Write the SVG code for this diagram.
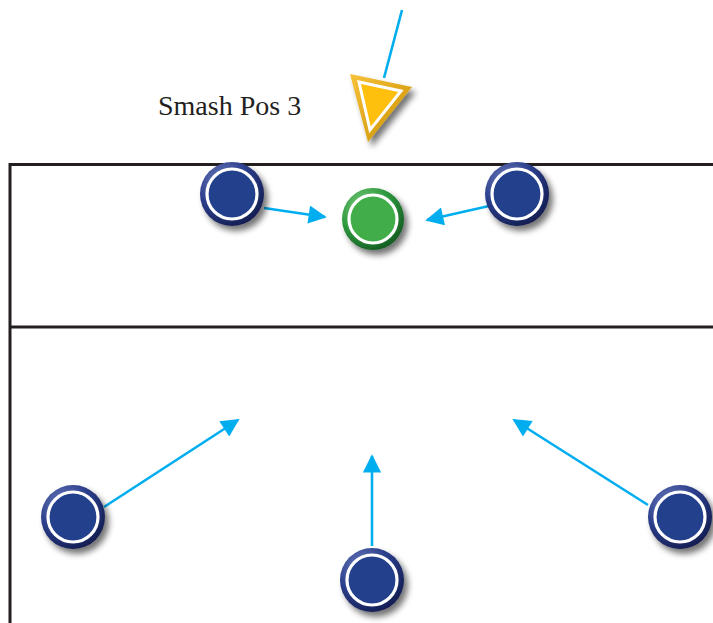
<svg xmlns="http://www.w3.org/2000/svg" width="713" height="623" viewBox="0 0 713 623">
  <style>
    .court { fill: none; stroke: #231f20; stroke-width: 3; }
    .move { fill: none; stroke: #00aeef; stroke-width: 2.6; }
    .ring { stroke: #ffffff; stroke-width: 3.2; }
    .label { font-family: "Liberation Serif", "DejaVu Serif", serif; font-size: 28px; fill: #231f20; }
  </style>
  <defs>
    <radialGradient id="blueRim" cx="0.35" cy="0.3" r="0.75">
      <stop offset="0" stop-color="#6f7fbf"/>
      <stop offset="0.55" stop-color="#2c3f8c"/>
      <stop offset="1" stop-color="#121c4f"/>
    </radialGradient>
    <radialGradient id="greenRim" cx="0.35" cy="0.3" r="0.75">
      <stop offset="0" stop-color="#7dcc7f"/>
      <stop offset="0.55" stop-color="#2f9a3e"/>
      <stop offset="1" stop-color="#145a22"/>
    </radialGradient>
    <linearGradient id="goldRim" x1="0" y1="0" x2="1" y2="1">
      <stop offset="0" stop-color="#f7c23a"/>
      <stop offset="1" stop-color="#c98f00"/>
    </linearGradient>
    <filter id="shadow" x="-30%" y="-30%" width="170%" height="170%">
      <feGaussianBlur in="SourceAlpha" stdDeviation="3"/>
      <feOffset dx="4" dy="5" result="b"/>
      <feComponentTransfer><feFuncA type="linear" slope="0.55"/></feComponentTransfer>
      <feMerge><feMergeNode/><feMergeNode in="SourceGraphic"/></feMerge>
    </filter>
    <marker id="head" viewBox="0 0 10 10" refX="9" refY="5" markerWidth="8" markerHeight="7" markerUnits="strokeWidth" orient="auto">
      <path d="M0,0 L10,5 L0,10 z" fill="#00aeef"/>
    </marker>
    <g id="bluePlayer">
      <circle r="32" fill="url(#blueRim)"/>
      <circle r="25" fill="#243f8c" class="ring"/>
    </g>
  </defs>

  <!-- court lines -->
  <g id="court">
    <path class="court" d="M713,164.5 H10 V623"/>
    <path class="court" d="M10,327 H713"/>
  </g>

  <text class="label" x="158" y="115">Smash Pos 3</text>

  <!-- movement arrows -->
  <g id="connectors">
    <line class="move" x1="402" y1="10" x2="384" y2="78" stroke-width="3"/>
    <line class="move" x1="264" y1="208" x2="325" y2="217" marker-end="url(#head)"/>
    <line class="move" x1="489" y1="206" x2="427" y2="220" marker-end="url(#head)"/>
    <line class="move" x1="104" y1="507" x2="238" y2="420" marker-end="url(#head)"/>
    <line class="move" x1="372" y1="546" x2="372" y2="456" marker-end="url(#head)"/>
    <line class="move" x1="648" y1="505" x2="514" y2="420" marker-end="url(#head)"/>
  </g>

  <!-- ball / attack marker -->
  <g id="attacker" filter="url(#shadow)">
    <polygon points="350,74 412,87 368,142" fill="url(#goldRim)"/>
    <polygon points="359,82 401,91 370,130" fill="#ffbf0f" stroke="#ffffff" stroke-width="3" stroke-linejoin="miter"/>
  </g>

  <g id="setter" filter="url(#shadow)">
    <circle cx="373" cy="219" r="31" fill="url(#greenRim)"/>
    <circle cx="373" cy="219" r="24" fill="#3fad49" class="ring"/>
  </g>

  <g id="blocker-left" filter="url(#shadow)"><use href="#bluePlayer" x="232" y="194"/></g>
  <g id="blocker-right" filter="url(#shadow)"><use href="#bluePlayer" x="517" y="194"/></g>
  <g id="defender-left" filter="url(#shadow)"><use href="#bluePlayer" x="73" y="517"/></g>
  <g id="defender-middle" filter="url(#shadow)"><use href="#bluePlayer" x="372" y="580"/></g>
  <g id="defender-right" filter="url(#shadow)"><use href="#bluePlayer" x="680" y="517"/></g>
</svg>
